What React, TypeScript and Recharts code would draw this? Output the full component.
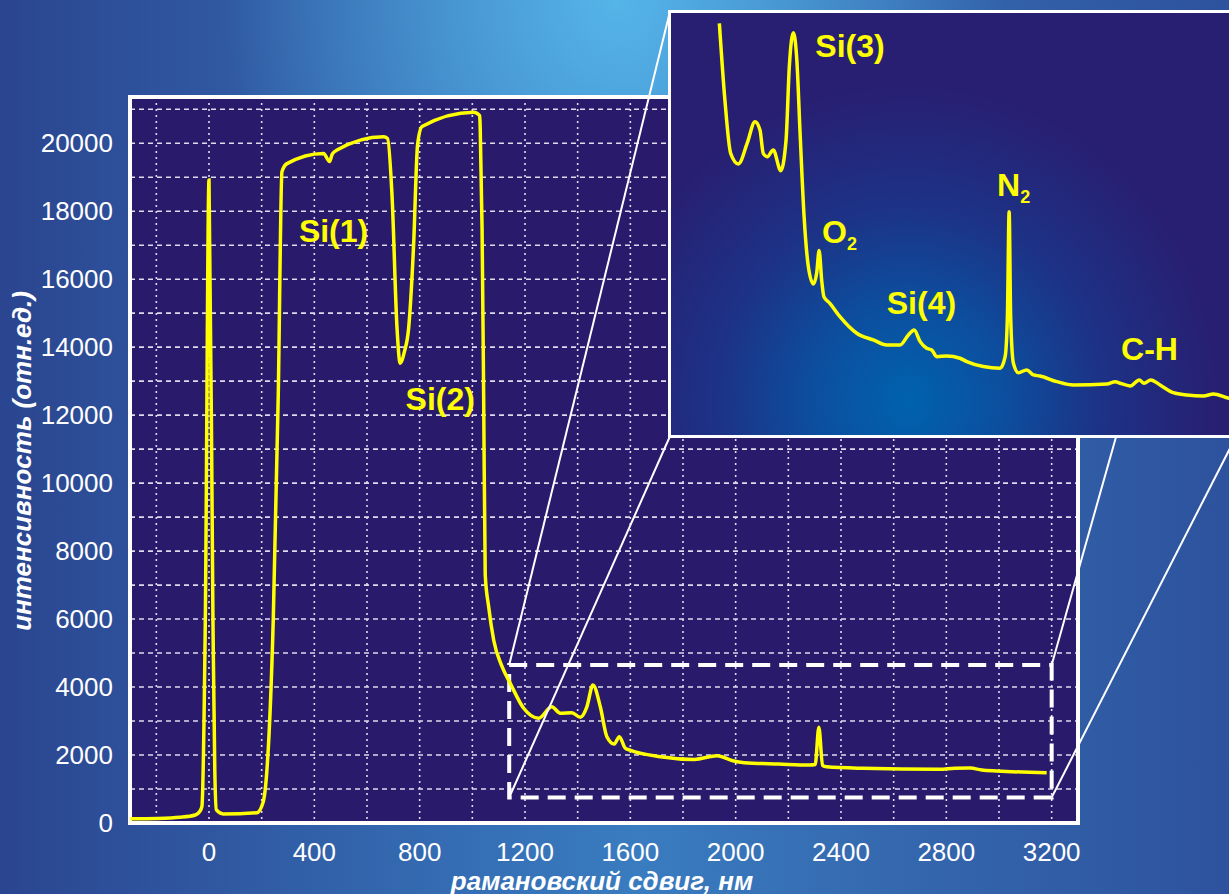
import React from "react";
import {
  LineChart,
  Line,
  XAxis,
  YAxis,
  CartesianGrid,
  ReferenceArea,
  ReferenceLine,
  ReferenceDot,
} from "recharts";

// основной спектр: рамановский сдвиг (нм) и интенсивность (отн.ед.)
const ramanShift = [
  -299, -197, -109, -52, -36, -27, -14, 0, 15, 22, 28, 54, 182, 206, 220, 244,
  263, 277, 296, 435, 458, 468, 486, 663, 678, 695, 714, 726, 742, 758, 777,
  792, 809, 1005, 1028, 1030, 1037, 1043, 1049, 1062, 1081, 1113, 1144, 1195,
  1252, 1302, 1334, 1378, 1410, 1435, 1458, 1486, 1511, 1539, 1558, 1581, 1596,
  1714, 1843, 1930, 1989, 2033, 2164, 2280, 2302, 2316, 2330, 2345, 2483, 2774,
  2832, 2891, 2934, 2992, 3181,
];
const intensity = [
  125, 135, 168, 235, 330, 480, 5970, 18920, 5970, 1560, 383, 265, 303, 627,
  1560, 5970, 12590, 19160, 19400, 19700, 19460, 19680, 19800, 20190, 20140,
  18470, 14560, 13530, 13870, 14550, 17010, 19950, 20490, 20910, 20810, 20420,
  17480, 12560, 7300, 6360, 5385, 4600, 4110, 3375, 3080, 3420, 3230, 3245,
  3110, 3420, 4060, 3420, 2540, 2325, 2540, 2200, 2150, 1950, 1870, 1980, 1830,
  1775, 1735, 1705, 1720, 2815, 1690, 1655, 1610, 1580, 1610, 1615, 1560, 1530,
  1480,
];

// увеличенный фрагмент (врезка)
const insetShift = [
  1163, 1185, 1208, 1239, 1274, 1305, 1325, 1338, 1354, 1378, 1408, 1429, 1442,
  1458, 1472, 1485, 1501, 1518, 1538, 1551, 1561, 1571, 1580, 1604, 1644, 1711,
  1777, 1831, 1884, 1917, 1940, 1964, 1990, 2010, 2030, 2070, 2123, 2150, 2216,
  2283, 2303, 2312, 2319, 2325, 2336, 2356, 2389, 2416, 2442, 2509, 2575, 2709,
  2742, 2762, 2802, 2838, 2857, 2884, 2921, 2974, 3028, 3094, 3134, 3196, 3224,
];
const insetIntensity = [
  4223, 3653, 3256, 3177, 3331, 3491, 3430, 3256, 3231, 3281, 3127, 3355, 3900,
  4153, 3950, 3405, 2784, 2412, 2284, 2363, 2532, 2314, 2189, 2140, 2040, 1917,
  1867, 1830, 1830, 1904, 1942, 1855, 1805, 1793, 1743, 1748, 1731, 1706, 1669,
  1657, 1743, 2040, 2822, 2040, 1694, 1624, 1644, 1607, 1599, 1557, 1532, 1540,
  1557, 1545, 1525, 1570, 1545, 1570, 1532, 1475, 1458, 1451, 1465, 1433, 1428,
];

const xTicks = [0, 400, 800, 1200, 1600, 2000, 2400, 2800, 3200];
const yTicks = [0, 2000, 4000, 6000, 8000, 10000, 12000, 14000, 16000, 18000, 20000];
const gridX = [-200, 0, 200, 400, 600, 800, 1000, 1200, 1400, 1600, 1800, 2000, 2200, 2400, 2600, 2800, 3000, 3200];
const gridY = [
  1000, 2000, 3000, 4000, 5000, 6000, 7000, 8000, 9000, 10000, 11000, 12000,
  13000, 14000, 15000, 16000, 17000, 18000, 19000, 20000, 21000,
];

// рамка увеличения и углы врезки в координатах основного графика
const zoomBox = { x1: 1140, x2: 3200, y1: 750, y2: 4650 };
const insetCorners = { x1: 1751, x2: 3901, y1: 11387, y2: 23893 };

const mainLabels = [
  { text: "Si(1)", x: 473, y: 17420 },
  { text: "Si(2)", x: 878, y: 12476 },
];
const insetLabels = [
  { text: "Si(3)", x: 1684, y: 4056 },
  { text: "O", sub: "2", x: 1642, y: 2674 },
  { text: "Si(4)", x: 1969, y: 2140 },
  { text: "N", sub: "2", x: 2337, y: 3020 },
  { text: "C-H", x: 2879, y: 1800 },
];

const FONT = "'Liberation Sans', Arial, sans-serif";
const YELLOW = "#ffff00";

const mainData = ramanShift.map((x, i) => ({ x, y: intensity[i] }));
const insetData = insetShift.map((x, i) => ({ x, y: insetIntensity[i] }));

const renderTag = (text: string, sub?: string) => (props: any) => {
  const vb = props.viewBox || { x: 0, y: 0, width: 0, height: 0 };
  const cx = vb.x + (vb.width || 0) / 2;
  const cy = vb.y + (vb.height || 0) / 2;
  return (
    <text
      x={cx}
      y={cy + 11}
      textAnchor="middle"
      fill={YELLOW}
      fontSize={32}
      fontWeight="bold"
      fontFamily={FONT}
    >
      {text}
      {sub && (
        <tspan fontSize={18} dy={7}>
          {sub}
        </tspan>
      )}
    </text>
  );
};

const tickStyle = { fill: "#ffffff", fontSize: 26, fontFamily: FONT };

const axisTitle = {
  position: "absolute" as const,
  color: "#ffffff",
  fontSize: 26,
  fontWeight: "bold" as const,
  fontStyle: "italic" as const,
  whiteSpace: "nowrap" as const,
};

const App = () => {
  return (
    <div
      style={{
        position: "fixed",
        left: 0,
        top: 0,
        width: 1229,
        height: 894,
        overflow: "hidden",
        background:
          "radial-gradient(ellipse 32% 45% at 50% 0%, rgba(90,190,240,0.85) 0%, rgba(90,190,240,0) 100%), linear-gradient(90deg, #2b4590 0%, #3672b8 42%, #3a7cc0 52%, #3466ad 75%, #2d529e 100%)",
        fontFamily: FONT,
      }}
    >
      <div style={{ position: "absolute", left: 0, top: 0 }}>
        <LineChart
          width={1229}
          height={894}
          data={mainData}
          margin={{ top: 97, right: 151, bottom: 31, left: 50 }}
        >
          <CartesianGrid
            vertical={false}
            horizontalValues={gridY}
            stroke="#dcdcec"
            strokeWidth={1.6}
            strokeDasharray="5 4"
            fill="#2a1a6c"
            fillOpacity={1}
          />
          <CartesianGrid
            horizontal={false}
            verticalValues={gridX}
            stroke="#dcdcec"
            strokeWidth={1.6}
            strokeDasharray="2 4"
          />
          <XAxis
            type="number"
            dataKey="x"
            domain={[-300, 3300]}
            ticks={xTicks}
            interval={0}
            allowDataOverflow
            axisLine={false}
            tickLine={false}
            tickMargin={14}
            height={40}
            tick={tickStyle}
          />
          <YAxis
            type="number"
            domain={[0, 21360]}
            ticks={yTicks}
            interval={0}
            allowDataOverflow
            axisLine={false}
            tickLine={false}
            tickMargin={11}
            width={80}
            tick={tickStyle}
          />
          <ReferenceArea
            x1={-300}
            x2={3300}
            y1={0}
            y2={21360}
            fill="none"
            stroke="#ffffff"
            strokeWidth={4}
            ifOverflow="visible"
          />
          <Line
            type="monotone"
            dataKey="y"
            stroke={YELLOW}
            strokeWidth={3.5}
            dot={false}
            activeDot={false}
            isAnimationActive={false}
          />
          <ReferenceArea
            x1={zoomBox.x1}
            x2={zoomBox.x2}
            y1={zoomBox.y1}
            y2={zoomBox.y2}
            fill="none"
            stroke="#ffffff"
            strokeWidth={4}
            strokeDasharray="18 9"
            ifOverflow="visible"
          />
          <ReferenceLine
            segment={[
              { x: zoomBox.x1, y: zoomBox.y2 },
              { x: insetCorners.x1, y: insetCorners.y2 },
            ]}
            stroke="#ffffff"
            strokeWidth={2}
            ifOverflow="visible"
          />
          <ReferenceLine
            segment={[
              { x: zoomBox.x1, y: zoomBox.y1 },
              { x: insetCorners.x1, y: insetCorners.y1 },
            ]}
            stroke="#ffffff"
            strokeWidth={2}
            ifOverflow="visible"
          />
          <ReferenceLine
            segment={[
              { x: zoomBox.x2, y: zoomBox.y2 },
              { x: insetCorners.x2, y: insetCorners.y2 },
            ]}
            stroke="#ffffff"
            strokeWidth={2}
            ifOverflow="visible"
          />
          <ReferenceLine
            segment={[
              { x: zoomBox.x2, y: zoomBox.y1 },
              { x: insetCorners.x2, y: insetCorners.y1 },
            ]}
            stroke="#ffffff"
            strokeWidth={2}
            ifOverflow="visible"
          />
          {mainLabels.map((l) => (
            <ReferenceDot
              key={l.text}
              x={l.x}
              y={l.y}
              r={0}
              fill="none"
              stroke="none"
              ifOverflow="visible"
              label={renderTag(l.text)}
            />
          ))}
        </LineChart>
      </div>

      <div
        style={{
          ...axisTitle,
          left: 602,
          top: 881,
          transform: "translate(-50%, -50%)",
        }}
      >
        рамановский сдвиг, нм
      </div>
      <div
        style={{
          ...axisTitle,
          left: 22,
          top: 461,
          transform: "translate(-50%, -50%) rotate(-90deg)",
        }}
      >
        интенсивность (отн.ед.)
      </div>

      <div
        style={{
          position: "absolute",
          left: 668,
          top: 10,
          width: 565,
          height: 422,
          border: "3px solid #ffffff",
          background:
            "radial-gradient(ellipse 55% 75% at 42% 92%, #0062ae 0%, #0c4f9f 30%, #1d3286 62%, #281f72 100%)",
        }}
      >
        <LineChart
          width={565}
          height={422}
          data={insetData}
          margin={{ top: 0, right: 0, bottom: 0, left: 0 }}
        >
          <XAxis type="number" dataKey="x" domain={[970, 3224]} hide allowDataOverflow />
          <YAxis type="number" domain={[1160, 4300]} hide allowDataOverflow />
          <Line
            type="monotone"
            dataKey="y"
            stroke={YELLOW}
            strokeWidth={3.5}
            dot={false}
            activeDot={false}
            isAnimationActive={false}
          />
          {insetLabels.map((l) => (
            <ReferenceDot
              key={l.text + (l.sub || "")}
              x={l.x}
              y={l.y}
              r={0}
              fill="none"
              stroke="none"
              ifOverflow="visible"
              label={renderTag(l.text, l.sub)}
            />
          ))}
        </LineChart>
      </div>
    </div>
  );
};

export default App;
